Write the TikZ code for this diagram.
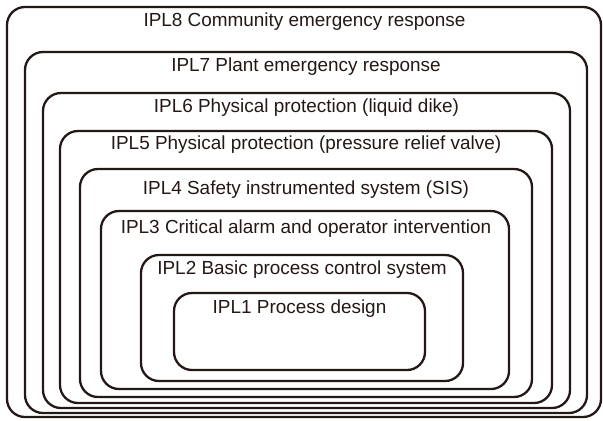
\documentclass[tikz,border=0pt]{standalone}
\usepackage{fontspec}
\setmainfont{Liberation Sans}
\definecolor{ink}{RGB}{35,24,21}
\begin{document}
\begin{tikzpicture}[x=1bp,y=-1bp,
  layerbox/.style={draw=ink, line width=2.3bp, rounded corners=18bp, inner sep=0pt, outer sep=0pt},
  layertext/.style={anchor=base, inner sep=0pt, text=ink, font=\fontsize{19}{21}\selectfont}]
\useasboundingbox (0,0) rectangle (603,420);
% boxes: left, right, top, bottom
\node[layerbox, minimum width=594bp, minimum height=410bp] (b8) at (304,212) {};
\node[layerbox, minimum width=562bp, minimum height=361bp] (b7) at (306,232.5) {};
\node[layerbox, minimum width=527bp, minimum height=315bp] (b6) at (306.5,250.5) {};
\node[layerbox, minimum width=492bp, minimum height=272bp] (b5) at (306,267) {};
\node[layerbox, minimum width=452bp, minimum height=228bp] (b4) at (306,283) {};
\node[layerbox, minimum width=408bp, minimum height=178bp] (b3) at (305,300) {};
\node[layerbox, minimum width=322bp, minimum height=126bp] (b2) at (302,318) {};
\node[layerbox, minimum width=251bp, minimum height=77bp] (b1) at (299.5,331.5) {};
% labels
\node[layertext] (t8) at (304.5,26) {IPL8 Community emergency response};
\node[layertext] (t7) at (306,71) {IPL7 Plant emergency response};
\node[layertext] (t6) at (306.5,112) {IPL6 Physical protection (liquid dike)};
\node[layertext] (t5) at (306,149) {IPL5 Physical protection (pressure relief valve)};
\node[layertext] (t4) at (306,194) {IPL4 Safety instrumented system (SIS)};
\node[layertext] (t3) at (306,233) {IPL3 Critical alarm and operator intervention};
\node[layertext] (t2) at (302,274) {IPL2 Basic process control system};
\node[layertext] (t1) at (299.5,313) {IPL1 Process design};
\end{tikzpicture}
\end{document}
